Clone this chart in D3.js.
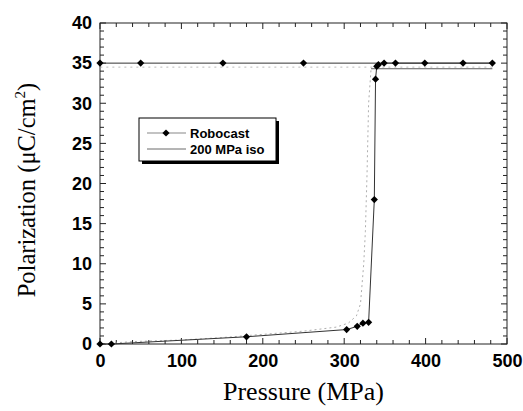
<!DOCTYPE html>
<html>
<head>
<meta charset="utf-8">
<script src="https://cdn.jsdelivr.net/npm/d3@7"></script>
<style>
  body { margin: 0; background: #fff; }
</style>
</head>
<body>
<div id="chart"></div>
<script>
// Robocast: rising branch then return along the saturated value
const roboP   = [0, 14, 180, 303, 316, 323, 330, 337, 338.5, 340, 342, 349, 363, 399, 446, 482, 250, 151, 50, 0];
const roboPol = [0, 0, 0.9, 1.8, 2.2, 2.6, 2.7, 18, 33, 34.6, 34.8, 35, 35, 35, 35, 35, 35, 35, 35, 35];

// 200 MPa iso: noisy rising branch (dotted) and flat top
const isoUpP   = [0, 40, 100, 150, 200, 250, 290, 305, 315, 320, 324, 326, 328, 330, 333];
const isoUpPol = [0, 0.3, 0.5, 0.8, 1.2, 1.6, 2.1, 2.6, 3.5, 5, 10, 14, 21, 30, 34.3];
const isoTopP   = [333, 340, 482];
const isoTopPol = [34.3, 34.3, 34.3];
const isoBackP   = [482, 330, 250, 150, 0];
const isoBackPol = [34.5, 34.5, 34.5, 34.5, 34.5];

const xTicks = [0, 100, 200, 300, 400, 500];
const yTicks = [0, 5, 10, 15, 20, 25, 30, 35, 40];

const W = 523, H = 411;
const m = {left: 100, right: 16, top: 23, bottom: 67};

const svg = d3.select("#chart").append("svg").attr("width", W).attr("height", H);

const x = d3.scaleLinear().domain([0, 500]).range([m.left, W - m.right]);
const y = d3.scaleLinear().domain([0, 40]).range([H - m.bottom, m.top]);

// minor ticks (inward) on all four sides
const minorX = d3.range(0, 501, 20);
const minorY = d3.range(0, 41, 1);
const g = svg.append("g");
const x0 = x(0), x1 = x(500), y0 = y(0), y1 = y(40);
minorX.forEach(v => {
  const len = v % 100 === 0 ? 6 : 4;
  g.append("line").attr("x1", x(v)).attr("x2", x(v)).attr("y1", y0).attr("y2", y0 - len).attr("stroke", "#222");
  g.append("line").attr("x1", x(v)).attr("x2", x(v)).attr("y1", y1).attr("y2", y1 + len).attr("stroke", "#222");
});
minorY.forEach(v => {
  const len = v % 5 === 0 ? 6 : 4;
  g.append("line").attr("y1", y(v)).attr("y2", y(v)).attr("x1", x0).attr("x2", x0 + len).attr("stroke", "#222");
  g.append("line").attr("y1", y(v)).attr("y2", y(v)).attr("x1", x1).attr("x2", x1 - len).attr("stroke", "#222");
});

svg.append("rect").attr("x", x0).attr("y", y1).attr("width", x1 - x0).attr("height", y0 - y1)
  .attr("fill", "none").attr("stroke", "#222").attr("stroke-width", 1);

const tickFont = "Arial, 'Liberation Sans', sans-serif";

const xAxis = svg.append("g").attr("transform", `translate(0,${y0})`)
  .call(d3.axisBottom(x).tickValues(xTicks).tickSize(0).tickPadding(10))
  .attr("font-family", tickFont).attr("font-size", 18).attr("font-weight", "bold");
xAxis.select(".domain").remove();

const yAxis = svg.append("g").attr("transform", `translate(${x0},0)`)
  .call(d3.axisLeft(y).tickValues(yTicks).tickSize(0).tickPadding(8))
  .attr("font-family", tickFont).attr("font-size", 18).attr("font-weight", "bold");
yAxis.select(".domain").remove();

const line = d3.line().x(d => x(d[0])).y(d => y(d[1]));

// iso curve
svg.append("path").datum(d3.zip(isoUpP, isoUpPol)).attr("d", line)
  .attr("fill", "none").attr("stroke", "#999").attr("stroke-width", 0.8).attr("stroke-dasharray", "2,3");
svg.append("path").datum(d3.zip(isoBackP, isoBackPol)).attr("d", line)
  .attr("fill", "none").attr("stroke", "#aaa").attr("stroke-width", 0.8).attr("stroke-dasharray", "2,4");
svg.append("path").datum(d3.zip(isoTopP, isoTopPol)).attr("d", line)
  .attr("fill", "none").attr("stroke", "#333").attr("stroke-width", 0.8);

// robocast curve
const robo = d3.zip(roboP, roboPol);
svg.append("path").datum(robo).attr("d", line)
  .attr("fill", "none").attr("stroke", "#333").attr("stroke-width", 1);

const diamond = d3.symbol().type(d3.symbolSquare).size(26);
svg.selectAll(".pt").data(robo).enter().append("path")
  .attr("class", "pt")
  .attr("transform", d => `translate(${x(d[0])},${y(d[1])}) rotate(45)`)
  .attr("d", diamond).attr("fill", "#000");

// legend
const lg = svg.append("g").attr("transform", "translate(139,118)");
lg.append("rect").attr("x", 3).attr("y", 3).attr("width", 137).attr("height", 43).attr("fill", "#000");
lg.append("rect").attr("x", 0).attr("y", 0).attr("width", 137).attr("height", 43)
  .attr("fill", "#fff").attr("stroke", "#000").attr("stroke-width", 1);
lg.append("line").attr("x1", 8).attr("x2", 47).attr("y1", 15).attr("y2", 15).attr("stroke", "#888").attr("stroke-width", 1.2);
lg.append("path").attr("transform", "translate(27,15) rotate(45)").attr("d", diamond).attr("fill", "#000");
lg.append("line").attr("x1", 8).attr("x2", 47).attr("y1", 31).attr("y2", 31).attr("stroke", "#444").attr("stroke-width", 0.8);
lg.selectAll("text").data(["Robocast", "200 MPa iso"]).enter().append("text")
  .attr("x", 51).attr("y", (d, i) => 19.5 + i * 16)
  .attr("font-family", tickFont).attr("font-weight", "bold").attr("font-size", 13)
  .text(d => d);

// axis titles
svg.append("text").attr("x", (x0 + x1) / 2).attr("y", 400).attr("text-anchor", "middle")
  .attr("font-family", "'Liberation Serif', 'Times New Roman', serif").attr("font-size", 26)
  .text("Pressure (MPa)");

const yl = svg.append("text").attr("transform", "translate(35,190) rotate(-90)")
  .attr("text-anchor", "middle")
  .attr("font-family", "'Liberation Serif', 'Times New Roman', serif").attr("font-size", 24.5);
yl.append("tspan").text("Polarization (μC/cm");
yl.append("tspan").attr("font-size", 15).attr("dy", -10).text("2");
yl.append("tspan").attr("dy", 10).text(")");
</script>
</body>
</html>
